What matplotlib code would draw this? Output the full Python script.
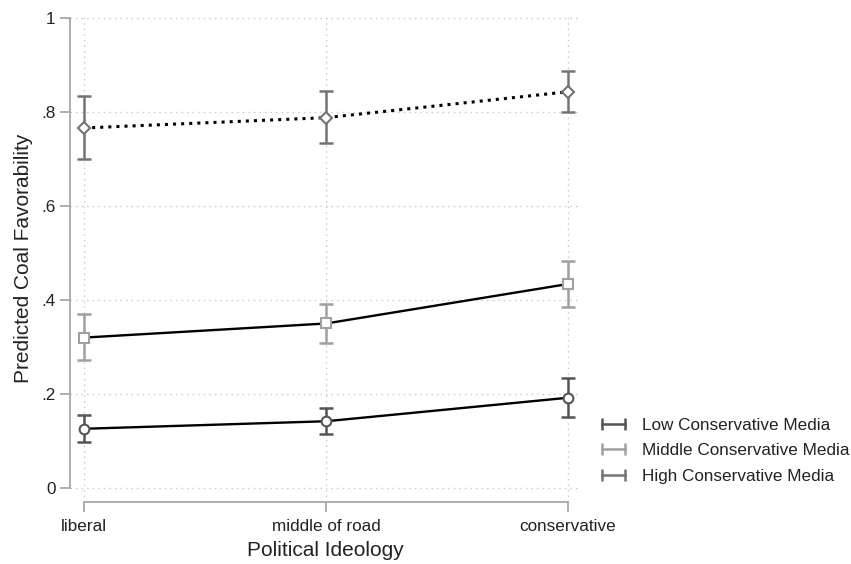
import matplotlib
matplotlib.use("Agg")
from matplotlib import pyplot as plt
from matplotlib.lines import Line2D
import numpy as np

plt.rcParams['font.family'] = ['Liberation Sans', 'DejaVu Sans']

# data
ideology = ["liberal", "middle of road", "conservative"]
low_est = [0.126, 0.142, 0.192]
low_lo = [0.098, 0.114, 0.151]
low_hi = [0.155, 0.170, 0.234]
mid_est = [0.320, 0.350, 0.434]
mid_lo = [0.272, 0.308, 0.386]
mid_hi = [0.370, 0.392, 0.482]
high_est = [0.766, 0.788, 0.843]
high_lo = [0.700, 0.733, 0.800]
high_hi = [0.833, 0.845, 0.887]
series_names = ["Low Conservative Media", "Middle Conservative Media", "High Conservative Media"]

fig = plt.figure(figsize=(8.51, 5.64), dpi=100)
ax = fig.add_axes([70/851, 62/564, 510/851, 487/564])
x = np.arange(len(ideology))

series = [
    (low_est, low_lo, low_hi, "#555555", "o", "-"),
    (mid_est, mid_lo, mid_hi, "#a0a0a0", "s", "-"),
    (high_est, high_lo, high_hi, "#747474", "D", ":"),
]
handles = []
for (est, lo, hi, col, mk, ls), name in zip(series, series_names):
    est, lo, hi = np.array(est), np.array(lo), np.array(hi)
    ax.errorbar(x, est, yerr=[est - lo, hi - est], fmt="none", ecolor=col,
                elinewidth=1.8, capsize=5, capthick=1.8, zorder=3)
    ax.plot(x, est, color="black", lw=1.7 if ls == "-" else 2.2, ls=ls, zorder=4)
    ax.plot(x, est, ls="none", marker=mk, mfc="white", mec=col, mew=1.5,
            ms=7 if mk != "D" else 6, zorder=5)
    handles.append(Line2D([], [], color=col, lw=1.8, marker="|", ms=8, mew=1.8))

ax.set_xlim(-0.058, 2.05)
ax.set_ylim(-0.0298, 1.0064)
ax.set_yticks([0, 0.2, 0.4, 0.6, 0.8, 1.0])
ax.set_yticklabels(["0", ".2", ".4", ".6", ".8", "1"])
ax.set_xticks(x)
ax.set_xticklabels(ideology)

for s in ["top", "right"]:
    ax.spines[s].set_visible(False)
ax.spines["left"].set_bounds(0, 1)
ax.spines["bottom"].set_bounds(0, 2)
for s in ["left", "bottom"]:
    ax.spines[s].set_color("#a8a8a8")
    ax.spines[s].set_linewidth(1.3)
ax.tick_params(axis="both", colors="#a8a8a8", labelcolor="#222222",
               labelsize=12.3, length=7, width=1.3)
ax.tick_params(axis="x", pad=5)
ax.grid(True, ls=(0, (1, 3)), color="#c8c8c8", lw=1.0)
ax.set_axisbelow(True)

ax.set_xlabel("Political Ideology", fontsize=15, color="#222222", labelpad=5)
ax.set_ylabel("Predicted Coal Favorability", fontsize=15, color="#222222", labelpad=6)

fig.legend(handles, series_names, loc="upper left", bbox_to_anchor=(597/851, 1 - 418/564),
           frameon=False, numpoints=2, fontsize=12.3, handlelength=1.95,
           handletextpad=0.7, labelspacing=0.6, borderpad=0, borderaxespad=0,
           labelcolor="#222222")

fig.savefig("out.png", dpi=100)
